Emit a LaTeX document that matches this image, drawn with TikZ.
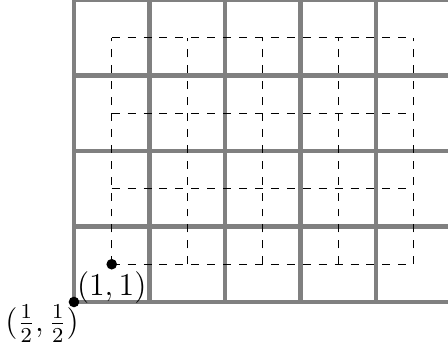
\documentclass[tikz,border=0pt]{standalone}
\usepackage{amsmath}
\usepackage{tikz}
\usetikzlibrary{positioning}

\begin{document}
\begin{tikzpicture}[
    gridline/.style={ultra thick, color=gray},
    halfgrid/.style={thin, dashed},
    dot/.style={circle, fill=black, inner sep=0pt, minimum size=4pt},
    lbl/.style={font=\large}]
    \useasboundingbox (-0.48,-0.07) rectangle (5.454,4.5);
    \begin{scope}
    \clip (-0.48,-0.07) rectangle (5.454,4.5);
    \draw[gridline, shift={(0.5,0.5)}] (0,0) grid (5,4);
    \end{scope}
    \draw[halfgrid] (1,1) grid (5,4);
    \node[dot] (p11) at (1,1) {};
    \node[dot] (phalf) at (0.5,0.5) {};
    \node[lbl, below=0pt of p11, inner sep=0.5pt] (l11) {$(1,1)$};
    \node[lbl, anchor=north east, inner sep=0pt, xshift=2pt, yshift=-1pt] (lhalf) at (phalf.center) {$(\frac{1}{2},\frac{1}{2})$};
\end{tikzpicture}
\end{document}
